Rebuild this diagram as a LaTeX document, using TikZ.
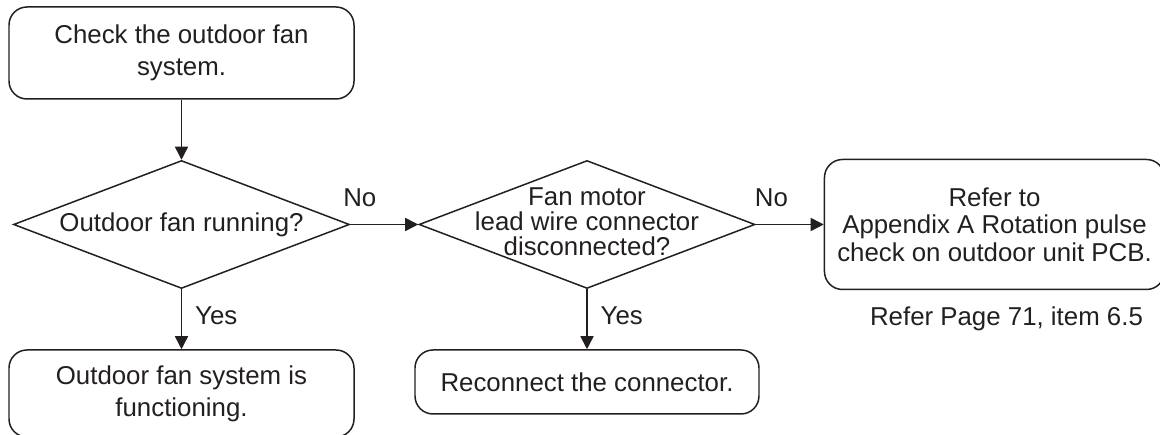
\documentclass[tikz,border=0pt]{standalone}
\usepackage{fontspec}
\setmainfont{Liberation Sans}
\usepackage{tikz}
\usepackage{xcolor}
\definecolor{Ink}{RGB}{35,31,32}
\usetikzlibrary{positioning,arrows.meta,shapes.geometric}

\begin{document}
\begin{tikzpicture}[
    box/.style={rectangle, draw=Ink, text=Ink, line width=0.85pt, rounded corners=0.36cm,
               minimum width=6.9cm, align=center, inner sep=0pt,
               font=\fontsize{14.7pt}{18.2pt}\selectfont},
    dec/.style={diamond, draw=Ink, line width=0.85pt, aspect=2.625, inner sep=0pt,
               minimum width=6.72cm, minimum height=2.56cm},
    dtxt/.style={text=Ink, align=center, inner sep=0pt,
               font=\fontsize{14.7pt}{14.2pt}\selectfont},
    lbl/.style={text=Ink, inner sep=0pt, font=\fontsize{14.7pt}{18.2pt}\selectfont},
    a/.style={-{Triangle[length=0.26cm, width=0.26cm]}, draw=Ink, line width=0.85pt}
]
    \useasboundingbox (0,0) rectangle (23.2,-8.7);
    \node[box, minimum height=1.84cm] (chk) at (3.63,-1.06) {Check the outdoor fan\\ system.};
    \node[dec, below=1.2cm of chk] (run) {};
    \node[dtxt] (runt) at (run) {Outdoor fan running?};
    \node[dec, right=1.36cm of run] (lead) {};
    \node[dtxt, yshift=0.06cm] (leadt) at (lead) {Fan motor\\ lead wire connector\\ disconnected?};
    \node[box, right=1.36cm of lead, minimum width=6.8cm, minimum height=2.6cm,
          font=\fontsize{14.7pt}{15.6pt}\selectfont] (pulse)
          {Refer to\\ Appendix A Rotation pulse\\ check on outdoor unit PCB.};
    \node[lbl, below=0.32cm of pulse, xshift=0.24cm] (pg) {Refer Page 71, item 6.5};
    \node[box, below=1.2cm of run, minimum height=1.74cm] (ok) {Outdoor fan system is\\ functioning.};
    \node[box, below=1.2cm of lead, minimum width=6.88cm, minimum height=1.28cm] (fix) {Reconnect the connector.};

    \draw[a] (chk) -- (run);
    \draw[a] (run) -- node[lbl, pos=0.14, above=0.34cm]{No} (lead);
    \draw[a] (lead) -- node[lbl, pos=0.23, above=0.34cm]{No} (pulse);
    \draw[a] (run) -- node[lbl, pos=0.45, right=0.26cm]{Yes} (ok);
    \draw[a] (lead) -- node[lbl, pos=0.45, right=0.26cm]{Yes} (fix);
\end{tikzpicture}
\end{document}
